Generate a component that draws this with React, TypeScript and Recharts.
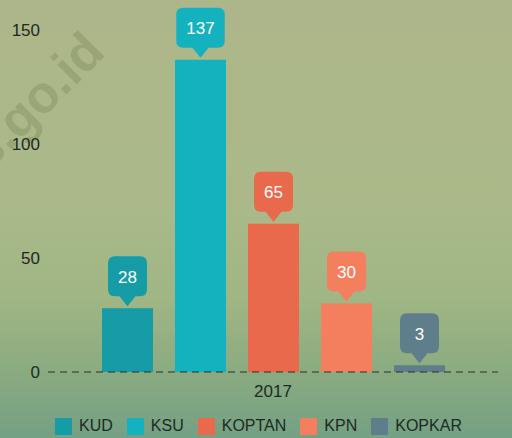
import React from "react";
import { Bar, BarChart, LabelList, Legend, XAxis, YAxis } from "recharts";

const categories = ["2017"];
const seriesNames = ["KUD", "KSU", "KOPTAN", "KPN", "KOPKAR"];
const seriesValues = [28, 137, 65, 30, 3];
const yTicks = [0, 50, 100, 150];

const COLORS: Record<string, string> = {
  KUD: "#169ca6",
  KSU: "#14b2bf",
  KOPTAN: "#e8694b",
  KPN: "#f47f5f",
  KOPKAR: "#5f7e8c",
};

const FONT = "'Liberation Sans', Arial, sans-serif";

const data = categories.map((category) => {
  const row: Record<string, string | number> = { category };
  seriesNames.forEach((name, i) => {
    row[name] = seriesValues[i];
  });
  return row;
});

// callout bubble above each bar
function Callout(props: any) {
  const { x, y, width, value, fill } = props;
  const cx = x + width / 2;
  const tip = y - 2;
  const boxBottom = tip - 10;
  const boxH = 40;
  const boxTop = boxBottom - boxH;
  const w = Math.max(39, String(value).length * 9.5 + 20);
  const l = cx - w / 2;
  const r = cx + w / 2;
  const rad = 7;
  const d = [
    `M${l + rad},${boxTop}`,
    `L${r - rad},${boxTop}`,
    `Q${r},${boxTop} ${r},${boxTop + rad}`,
    `L${r},${boxBottom - rad}`,
    `Q${r},${boxBottom} ${r - rad},${boxBottom}`,
    `L${cx + 8},${boxBottom}`,
    `L${cx},${tip}`,
    `L${cx - 8},${boxBottom}`,
    `L${l + rad},${boxBottom}`,
    `Q${l},${boxBottom} ${l},${boxBottom - rad}`,
    `L${l},${boxTop + rad}`,
    `Q${l},${boxTop} ${l + rad},${boxTop}`,
    "Z",
  ].join(" ");
  return (
    <g>
      <path d={d} fill={fill} />
      <text
        x={cx}
        y={boxTop + boxH / 2 + 1}
        textAnchor="middle"
        dominantBaseline="central"
        fill="#ffffff"
        fontSize={17}
        fontFamily={FONT}
      >
        {value}
      </text>
    </g>
  );
}

function LegendContent() {
  return (
    <div
      style={{
        display: "flex",
        justifyContent: "center",
        paddingTop: 15,
        paddingLeft: 19,
        fontFamily: FONT,
        fontSize: 16,
        color: "#1e2a22",
      }}
    >
      {seriesNames.map((name, i) => (
        <div
          key={name}
          style={{ display: "flex", alignItems: "center", marginRight: i < seriesNames.length - 1 ? 14 : 0 }}
        >
          <span style={{ width: 17, height: 17, background: COLORS[name], marginRight: 7, display: "inline-block" }} />
          <span>{name}</span>
        </div>
      ))}
    </div>
  );
}

export default function App() {
  return (
    <div
      style={{
        position: "absolute",
        left: 0,
        top: 0,
        width: 512,
        height: 438,
        overflow: "hidden",
        background:
          "linear-gradient(to bottom, #adb68a 0%, #abb989 45%, #a0b684 68%, #8aab81 85%, #74a084 100%)",
      }}
    >
      <svg width={512} height={438} style={{ position: "absolute", left: 0, top: 0 }}>
        <text
          x={107}
          y={54}
          textAnchor="end"
          fontSize={52}
          fontWeight="bold"
          fontFamily={FONT}
          fill="rgba(110,125,70,0.3)"
          transform="rotate(-45 107 54)"
        >
          bps.go.id
        </text>
      </svg>
      <div style={{ position: "absolute", left: 0, top: 0 }}>
        <BarChart
          width={512}
          height={438}
          data={data}
          margin={{ top: 30, right: 14, left: 0, bottom: 0 }}
          barGap={22}
        >
          <XAxis
            dataKey="category"
            tickLine={false}
            tickMargin={7}
            axisLine={{ stroke: "#2a2f2a", strokeDasharray: "7 5" }}
            tick={{ fill: "#1e2a22", fontSize: 17, fontFamily: FONT }}
            height={30}
          />
          <YAxis
            domain={[0, 150]}
            ticks={yTicks}
            axisLine={false}
            tickLine={false}
            width={48}
            tick={{ fill: "#1e2a22", fontSize: 17, fontFamily: FONT }}
          />
          <Legend verticalAlign="bottom" height={36} content={<LegendContent />} />
          {seriesNames.map((name) => (
            <Bar key={name} dataKey={name} fill={COLORS[name]} barSize={51} isAnimationActive={false}>
              <LabelList dataKey={name} content={(p: any) => <Callout {...p} fill={COLORS[name]} />} />
            </Bar>
          ))}
        </BarChart>
      </div>
    </div>
  );
}
